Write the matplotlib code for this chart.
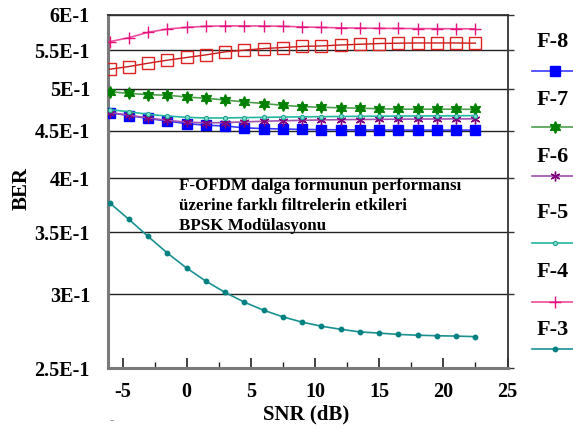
import matplotlib
matplotlib.use("Agg")
import matplotlib.pyplot as plt
from matplotlib.lines import Line2D
from matplotlib.ticker import FixedLocator, FixedFormatter, NullLocator, MultipleLocator

# ---------------- data ----------------
snr = [-6, -4.5, -3, -1.5, 0, 1.5, 3, 4.5, 6, 7.5, 9, 10.5, 12, 13.5, 15, 16.5, 18, 19.5, 21, 22.5]

f8 = [0.4710, 0.4675, 0.4642, 0.4612, 0.4583, 0.4565, 0.4556, 0.4535, 0.4527, 0.4522,
      0.4518, 0.4515, 0.4513, 0.4512, 0.4511, 0.4510, 0.4510, 0.4510, 0.4510, 0.4510]
f7 = [0.4960, 0.4940, 0.4925, 0.4917, 0.4896, 0.4880, 0.4860, 0.4836, 0.4817, 0.4796,
      0.4780, 0.4773, 0.4766, 0.4762, 0.4755, 0.4751, 0.4750, 0.4750, 0.4750, 0.4748]
f6 = [0.4710, 0.4680, 0.4648, 0.4620, 0.4600, 0.4592, 0.4595, 0.4603, 0.4610, 0.4616,
      0.4621, 0.4625, 0.4628, 0.4630, 0.4632, 0.4634, 0.4635, 0.4636, 0.4637, 0.4638]
f5 = [0.4745, 0.4720, 0.4690, 0.4670, 0.4655, 0.4648, 0.4648, 0.4652, 0.4655, 0.4658,
      0.4661, 0.4663, 0.4665, 0.4667, 0.4668, 0.4670, 0.4671, 0.4672, 0.4673, 0.4675]
f4 = [0.5616, 0.5672, 0.5748, 0.5795, 0.5819, 0.5835, 0.5840, 0.5840, 0.5838, 0.5835,
      0.5825, 0.5818, 0.5812, 0.5808, 0.5805, 0.5803, 0.5801, 0.5800, 0.5799, 0.5797]
f3 = [0.3765, 0.3614, 0.3464, 0.3324, 0.3203, 0.3101, 0.3015, 0.2943, 0.2885, 0.2838,
      0.2801, 0.2773, 0.2752, 0.2734, 0.2726, 0.2717, 0.2712, 0.2708, 0.2706, 0.2702]
f_red = [0.5245, 0.5280, 0.5324, 0.5364, 0.5400, 0.5435, 0.5476, 0.5499, 0.5521, 0.5535,
         0.5550, 0.5557, 0.5570, 0.5580, 0.5590, 0.5595, 0.5598, 0.5598, 0.5598, 0.5595]

y_ticks = [0.25, 0.3, 0.35, 0.4, 0.45, 0.5, 0.55, 0.6]
y_tick_labels = ["2.5E-1", "3E-1", "3.5E-1", "4E-1", "4.5E-1", "5E-1", "5.5E-1", "6E-1"]
x_ticks = [-5, 0, 5, 10, 15, 20, 25]
x_tick_labels = ["-5", "0", "5", "10", "15", "20", "25"]

legend_labels = ["F-8", "F-7", "F-6", "F-5", "F-4", "F-3"]
annotation = ["F-OFDM dalga formunun performansı",
              "üzerine farklı filtrelerin etkileri",
              "BPSK Modülasyonu"]

# ---------------- figure ----------------
W, H = 573, 430
plt.rcParams['font.family'] = ['Liberation Serif', 'DejaVu Serif']
plt.rcParams['font.weight'] = 'bold'
plt.rcParams['axes.unicode_minus'] = False
fig = plt.figure(figsize=(W / 100, H / 100), dpi=100)

L, R, T, B = 108, 507.5, 15, 368
ax = fig.add_axes([L / W, 1 - B / H, (R - L) / W, (B - T) / H])
ax.set_yscale('log')
ax.set_xlim(-6.13, 25)
ax.set_ylim(0.25, 0.6)

ax.yaxis.set_major_locator(FixedLocator(y_ticks))
ax.yaxis.set_major_formatter(FixedFormatter(y_tick_labels))
ax.yaxis.set_minor_locator(NullLocator())
ax.xaxis.set_major_locator(FixedLocator(x_ticks))
ax.xaxis.set_major_formatter(FixedFormatter(x_tick_labels))
ax.xaxis.set_minor_locator(MultipleLocator(2.5))

ax.grid(True, axis='y', color='#222222', lw=1.0)
ax.set_axisbelow(True)

ax.tick_params(axis='y', which='major', left=False, right=True, direction='out',
               length=4, width=1, labelsize=14.5, pad=9, color='#333333')
ax.tick_params(axis='x', which='major', direction='in', length=7, width=1.2,
               labelsize=14.5, pad=10, color='#222222')
ax.tick_params(axis='x', which='minor', direction='in', length=4, width=1.0, color='#222222')
for lab in ax.get_xticklabels() + ax.get_yticklabels():
    lab.set_fontweight('bold')

for s in ['left', 'bottom']:
    ax.spines[s].set_color('#7a7a7a')
    ax.spines[s].set_linewidth(2.2)
for s in ['top', 'right']:
    ax.spines[s].set_color('#333333')
    ax.spines[s].set_linewidth(1.3)

# series styles
styles = {
    'F-8': dict(color='#3a3aff', marker='s', ms=7.8, mfc='#0000ff', mec='#0000ff', lw=1.2),
    'F-7': dict(color='#4e9e4e', marker=(6, 1, 0), ms=8.5, mfc='#008000', mec='#008000', lw=1.2),
    'F-6': dict(color='#a050b0', marker=(6, 2, 0), ms=7, mfc='#800080', mec='#800080', mew=1.0, lw=1.2),
    'F-5': dict(color='#20b8a0', marker='o', ms=3, mfc='#80e0d0', mec='#20a090', mew=0.8, lw=1.2),
    'F-4': dict(color='#ec4c9c', marker='+', ms=9, mec='#e8107e', mew=1.0, lw=1.2),
    'F-3': dict(color='#1a9090', marker='o', ms=3.2, mfc='#008080', mec='#008080', lw=1.2),
}

ax.plot(snr, f_red, color='#c81818', marker='s', ms=8, mfc='none', mec='#dd2222',
        mew=1.0, lw=1.0, zorder=3)
ax.plot(snr, f8, zorder=3, **styles['F-8'])
ax.plot(snr, f7, zorder=3, **styles['F-7'])
ax.plot(snr, f6, zorder=4, **styles['F-6'])
ax.plot(snr, f5, zorder=5, **styles['F-5'])
ax.plot(snr, f4, zorder=3, **styles['F-4'])
ax.plot(snr, f3, zorder=3, **styles['F-3'])

# annotation text
for i, line in enumerate(annotation):
    fig.text(179 / W, 1 - (186 + 20 * i) / H, line, fontsize=12.2, fontweight='bold',
             ha='left', va='center')

# axis labels
fig.text(22 / W, 1 - 188 / H, 'BER', rotation=90, fontsize=15, fontweight='bold',
         ha='center', va='center')
fig.text(306 / W, 1 - 414 / H, 'SNR (dB)', fontsize=15, fontweight='bold',
         ha='center', va='center')
fig.text(112 / W, 1 - 420 / H, '-', fontsize=9, color='#777777', ha='center', va='center')

# manual legend on the right
label_y = [42, 100, 157, 213, 272, 330]
line_y = [71, 127, 176, 243, 302, 349]
for lab, ty, ly in zip(legend_labels, label_y, line_y):
    fig.text(553 / W, 1 - ty / H, lab, fontsize=16, fontweight='bold', ha='center', va='center')
    st = dict(styles[lab])
    st_line = {k: v for k, v in st.items() if k in ('color', 'lw')}
    fig.add_artist(Line2D([532 / W, 1.0], [1 - ly / H, 1 - ly / H], transform=fig.transFigure, **st_line))
    st_mark = {k: v for k, v in st.items() if k not in ('lw',)}
    st_mark['ls'] = 'none'
    fig.add_artist(Line2D([555 / W], [1 - ly / H], transform=fig.transFigure, **st_mark))

fig.savefig('out.png', dpi=100)
